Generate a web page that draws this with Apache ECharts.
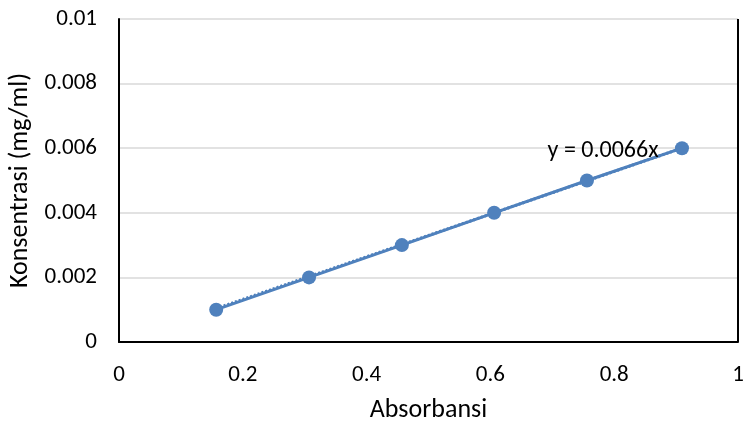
<!DOCTYPE html>
<html><head><meta charset="utf-8">
<script src="https://cdn.jsdelivr.net/npm/echarts@6/dist/echarts.min.js"></script>
<style>html,body{margin:0;padding:0;background:#fff}#c{width:745px;height:423px}</style>
</head><body><div id="c"></div>
<script>
const absorbansi = [0.157, 0.307, 0.457, 0.606, 0.756, 0.9095];
const konsentrasi = [0.001, 0.002, 0.003, 0.004, 0.005, 0.006];
const slope = 0.0066;
const trendLabel = 'y = 0.0066x';
const xTitle = 'Absorbansi';
const yTitle = 'Konsentrasi (mg/ml)';

const font = 'Carlito, "Open Sans", "Liberation Sans", Arial, sans-serif';
const blue = '#4f81bd';
const pts = absorbansi.map((x, i) => [x, konsentrasi[i]]);
const xs = absorbansi;
const trend = [[xs[0], slope * xs[0]], [xs[xs.length - 1], slope * xs[xs.length - 1]]];

const chart = echarts.init(document.getElementById('c'));
chart.setOption({
  animation: false,
  grid: { left: 119, right: 7, top: 19, bottom: 81, show: false, containLabel: false, outerBoundsMode: 'none' },
  xAxis: {
    type: 'value', min: 0, max: 1, interval: 0.2,
    name: xTitle, nameLocation: 'middle', nameGap: 55,
    nameTextStyle: { fontFamily: font, fontSize: 26, color: '#000' },
    axisLine: { show: true, onZero: false, lineStyle: { color: '#000', width: 2 } },
    axisTick: { show: false },
    splitLine: { show: false },
    axisLabel: { fontFamily: font, fontSize: 23, color: '#000', margin: 22,
      formatter: v => String(+v.toFixed(1)) }
  },
  yAxis: {
    type: 'value', min: 0, max: 0.01, interval: 0.002,
    name: yTitle, nameLocation: 'middle', nameGap: 84,
    nameTextStyle: { fontFamily: font, fontSize: 26, color: '#000' },
    axisLine: { show: true, onZero: false, lineStyle: { color: '#000', width: 2 } },
    axisTick: { show: false },
    splitLine: { show: true, lineStyle: { color: '#d9d9d9', width: 1.5 } },
    axisLabel: { fontFamily: font, fontSize: 23, color: '#000', margin: 22,
      formatter: v => String(+v.toFixed(3)) }
  },
  series: [
    {
      type: 'line', data: pts, symbol: 'circle', symbolSize: 14,
      lineStyle: { color: blue, width: 3 },
      itemStyle: { color: blue }, z: 3
    },
    {
      type: 'line', data: trend, symbol: 'none',
      lineStyle: { color: '#4a7ebb', width: 3, type: [2, 2] }, z: 2,
      markPoint: {
        symbol: 'rect', symbolSize: 0,
        data: [{ coord: [0.782, 0.0059] }],
        label: { show: true, formatter: trendLabel, fontFamily: font, fontSize: 24, color: '#000',
          position: 'inside' }
      }
    },
    {
      type: 'line', data: [[1, 0], [1, 0.01]], symbol: 'none', silent: true,
      lineStyle: { color: '#000', width: 2 }
    }
  ]
});
</script></body></html>
